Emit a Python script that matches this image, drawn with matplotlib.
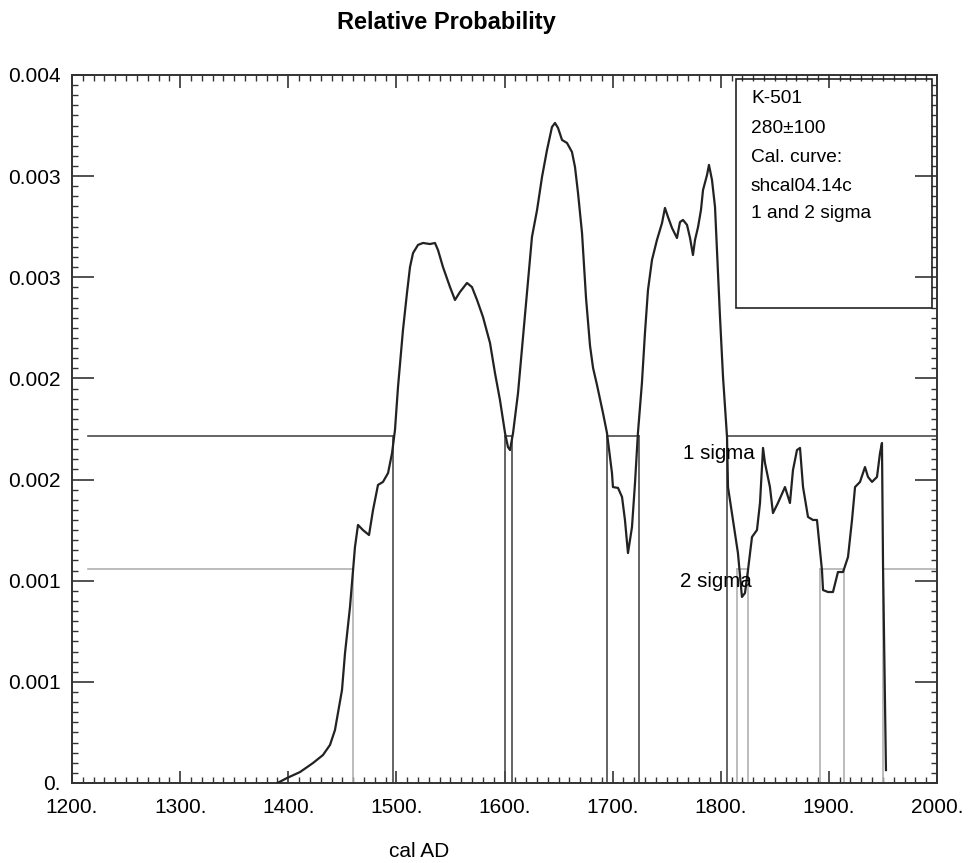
import matplotlib
matplotlib.use("Agg")
import matplotlib.pyplot as plt
from matplotlib.ticker import MultipleLocator
from matplotlib.patches import Rectangle

plt.rcParams['font.family'] = ['Liberation Sans', 'DejaVu Sans']

# ---- data ----
years = [1390, 1398.8, 1410.9, 1422.9, 1432.1, 1438.6, 1443.2, 1446.0, 1449.7, 1452.5,
         1457.1, 1459.9, 1461.7, 1464.5, 1469.1, 1474.7, 1478.4, 1483.0, 1487.6, 1492.3,
         1496.0, 1498.7, 1501.5, 1506.1, 1509.8, 1512.6, 1515.4, 1520.0, 1524.6, 1531.1,
         1535.7, 1538.5, 1543.1, 1549.6, 1554.2, 1558.8, 1565.3, 1569.9, 1574.6, 1580.1,
         1586.6, 1591.2, 1595.8, 1600.5, 1603.2, 1605.1, 1607.9, 1612.5, 1617.1, 1620.8,
         1625.4, 1630.1, 1634.7, 1639.3, 1643.9, 1646.7, 1649.5, 1653.2, 1657.8, 1662.4,
         1665.2, 1668.0, 1671.7, 1675.4, 1679.1, 1681.9, 1685.5, 1691.1, 1694.8, 1699.4,
         1700.3, 1705.0,
         1708.7, 1711.4, 1714.2, 1717.9, 1720.7, 1723.4, 1727.1, 1729.9, 1732.7, 1736.4,
         1741.0, 1745.7, 1748.4, 1751.2, 1754.9, 1759.5, 1762.3, 1765.1, 1768.8, 1771.6,
         1774.3, 1776.2, 1779.0, 1781.7, 1783.6, 1787.3, 1789.1, 1791.9, 1794.7, 1796.5,
         1799.3, 1802.1, 1805.8, 1806.7, 1811.3, 1815.9, 1819.6, 1822.4, 1825.2, 1828.9,
         1833.5, 1836.3, 1839.1, 1840.9, 1845.5, 1848.3, 1852.9, 1859.4, 1864.0, 1866.8,
         1870.5, 1873.3, 1876.1, 1880.7, 1885.3, 1889.0, 1893.6, 1894.6, 1899.2, 1903.8,
         1908.4, 1913.1, 1917.7, 1921.4, 1924.2, 1928.8, 1933.4, 1936.2, 1939.9, 1944.5,
         1947.3, 1949.1, 1950.1, 1952.8]
prob = [0.0, 0.000028, 0.000062, 0.000113, 0.000158, 0.000215, 0.000299, 0.000395, 0.000525, 0.000734,
        0.000994, 0.001203, 0.001333, 0.001458, 0.001429, 0.001401, 0.001542, 0.001684, 0.001701, 0.001751,
        0.001864, 0.001994, 0.002237, 0.002559, 0.002768, 0.002915, 0.002994, 0.003040, 0.003051, 0.003045,
        0.003051, 0.003011, 0.002915, 0.002802, 0.002729, 0.002774, 0.002825, 0.002802, 0.002729, 0.002633,
        0.002486, 0.002316, 0.002164, 0.001977, 0.001898, 0.001881, 0.001977, 0.002203, 0.002520, 0.002768,
        0.003085, 0.003237, 0.003424, 0.003576, 0.003706, 0.003729, 0.003701, 0.003633, 0.003616, 0.003565,
        0.003480, 0.003333, 0.003107, 0.002740, 0.002470, 0.002345, 0.002250, 0.002090, 0.001977, 0.001751,
        0.001672, 0.001667,
        0.001616, 0.001486, 0.001299, 0.001446, 0.001695, 0.001977, 0.002260, 0.002542, 0.002785, 0.002955,
        0.003068, 0.003164, 0.003249, 0.003198, 0.003136, 0.003079, 0.003169, 0.003181, 0.003153, 0.003079,
        0.002983, 0.003068, 0.003141, 0.003237, 0.003350, 0.003435, 0.003492, 0.003407, 0.003254, 0.003011,
        0.002633, 0.002294, 0.001955, 0.001672, 0.001486, 0.001299, 0.001051, 0.001073, 0.001203, 0.001390,
        0.001429, 0.001582, 0.001893, 0.001808, 0.001672, 0.001525, 0.001582, 0.001672, 0.001582, 0.001768,
        0.001881, 0.001893, 0.001672, 0.001503, 0.001486, 0.001486, 0.001203, 0.001090, 0.001079, 0.001079,
        0.001192, 0.001192, 0.001277, 0.001486, 0.001672, 0.001701, 0.001785, 0.001729, 0.001701, 0.001729,
        0.001864, 0.001921, 0.001220, 0.000073]

one_sigma_level = 0.00196
two_sigma_level = 0.001209
one_sigma_ranges = [(1497, 1600.5), (1607, 1695), (1724.5, 1806)]
two_sigma_ranges = [(1460, 1815), (1825, 1892), (1914, 1950)]
level_start = 1215

xticks = [1200, 1300, 1400, 1500, 1600, 1700, 1800, 1900, 2000]
xticklabels = ["1200.", "1300.", "1400.", "1500.", "1600.", "1700.", "1800.", "1900.", "2000."]
ymax = 0.004
n_yintervals = 7
yticklabels = ["0.", "0.001", "0.001", "0.002", "0.002", "0.003", "0.003", "0.004"]

legend_lines = ["K-501", "280\u00b1100", "Cal. curve:", "shcal04.14c", "1 and 2 sigma"]

# ---- figure ----
fig = plt.figure(figsize=(9.73, 8.63), dpi=100)
ax = fig.add_axes([0.074, 0.0927, 0.889, 0.8204])

def draw_levels(level, ranges, color, lw):
    starts = [level_start] + [r[1] for r in ranges]
    ends = [r[0] for r in ranges] + [2000]
    for s, e in zip(starts, ends):
        ax.plot([s, e], [level, level], color=color, lw=lw, zorder=2)
    for r in ranges:
        for b in r:
            ax.plot([b, b], [0, level], color=color, lw=lw, zorder=2)

draw_levels(two_sigma_level, two_sigma_ranges, '#b0b0b0', 1.2)
draw_levels(one_sigma_level, one_sigma_ranges, '#4a4a4a', 1.2)

ax.plot(years, prob, color='#222222', lw=1.6, zorder=3)

ystep = ymax / n_yintervals
ax.set_xlim(1200, 2000)
ax.set_ylim(0, ymax)
ax.set_xticks(xticks)
ax.set_xticklabels(xticklabels)
ax.set_yticks([i * ystep for i in range(n_yintervals + 1)])
ax.set_yticklabels(yticklabels)
ax.xaxis.set_minor_locator(MultipleLocator(10))
ax.yaxis.set_minor_locator(MultipleLocator(ystep / 10))
ax.tick_params(which='both', direction='in', top=True, right=True, labelsize=15, color='#333333')
ax.tick_params(which='minor', length=4, width=1)
ax.tick_params(axis='x', which='major', pad=11, length=9, width=1.2)
ax.tick_params(axis='y', which='major', pad=8, length=16, width=1.2)
for sp in ax.spines.values():
    sp.set_linewidth(1.4)
    sp.set_color('#333333')

# legend box
ax.add_patch(Rectangle((0.768, 0.671), 0.226, 0.323, transform=ax.transAxes,
                       fill=False, edgecolor='#222222', lw=1.2, zorder=4))
ys = [0.9675, 0.925, 0.884, 0.843, 0.804]
for t, yy in zip(legend_lines, ys):
    ax.text(0.785, yy, t, transform=ax.transAxes, fontsize=13.8, va='center', ha='left')

ax.text(1765, 0.001864, "1 sigma", fontsize=14.8, va='center', ha='left', zorder=5)
ax.text(1762, 0.001136, "2 sigma", fontsize=14.8, va='center', ha='left', zorder=5)

fig.text(0.459, 0.974, "Relative Probability", fontsize=17, fontweight='bold', ha='center', va='center')
fig.text(0.431, 0.013, "cal AD", fontsize=15, ha='center', va='center')

fig.savefig("out.png", dpi=100)
